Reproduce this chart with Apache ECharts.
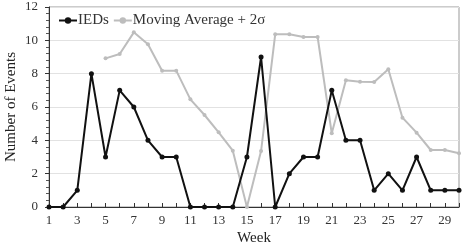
<!DOCTYPE html>
<html>
<head>
<meta charset="utf-8">
<script src="https://cdn.jsdelivr.net/npm/echarts@6/dist/echarts.min.js"></script>
<style>html,body{margin:0;padding:0;background:#fff}#c{width:463px;height:246px}</style>
</head>
<body>
<div id="c"></div>
<script>
const weeks = ["1","2","3","4","5","6","7","8","9","10","11","12","13","14","15","16","17","18","19","20","21","22","23","24","25","26","27","28","29","30"];
const ieds = [0,0,1,8,3,7,6,4,3,3,0,0,0,0,3,9,0,2,3,3,7,4,4,1,2,1,3,1,1,1];
const movingAvg2s = [null,null,null,null,8.92,9.18,10.48,9.76,8.18,8.18,6.46,5.52,4.48,3.38,0,3.36,10.36,10.36,10.2,10.2,4.42,7.6,7.52,7.5,8.26,5.36,4.46,3.42,3.42,3.22];
const yTicks = {min:0, max:12, interval:2};

const font = '"Liberation Serif", "DejaVu Serif", serif';
const chart = echarts.init(document.getElementById('c'), null, {renderer:'canvas'});
chart.setOption({
  animation:false,
  backgroundColor:'#fff',
  grid:{left:49, right:4, top:7, bottom:39, show:true, borderColor:'#999', borderWidth:1, containLabel:false, outerBoundsMode:'none'},
  legend:{
    left:53, top:8, itemWidth:18, itemHeight:8, itemGap:4,
    textStyle:{fontFamily:font, fontSize:15, color:'#333', padding:[0,0,0,-4]},
    data:['IEDs','Moving Average + 2σ']
  },
  xAxis:{
    type:'category', data:weeks, boundaryGap:false,
    name:'Week', nameLocation:'middle', nameGap:24, nameMoveOverlap:false,
    nameTextStyle:{fontFamily:font, fontSize:15, color:'#222'},
    axisLine:{lineStyle:{color:'#333', width:1}},
    axisTick:{show:true, interval:0, inside:true, length:4, lineStyle:{color:'#333'}},
    axisLabel:{interval:1, fontFamily:font, fontSize:13, color:'#333', margin:7},
    splitLine:{show:false}
  },
  yAxis:{
    type:'value', min:yTicks.min, max:yTicks.max, interval:yTicks.interval,
    name:'Number of Events', nameLocation:'middle', nameGap:30, nameMoveOverlap:false,
    nameTextStyle:{fontFamily:font, fontSize:15, color:'#222'},
    axisLine:{show:true, lineStyle:{color:'#333', width:1}},
    axisTick:{show:true, inside:false, length:4, lineStyle:{color:'#333'}},
    minorTick:{show:true, splitNumber:5, length:3, lineStyle:{color:'#555'}},
    axisLabel:{fontFamily:font, fontSize:13, color:'#333', margin:11},
    splitLine:{show:true, lineStyle:{color:'#e2e2e2', width:1}}
  },
  series:[
    {name:'Moving Average + 2σ', type:'line', data:movingAvg2s, connectNulls:false,
     symbol:'circle', symbolSize:4, showAllSymbol:true,
     lineStyle:{color:'#bdbdbd', width:2}, itemStyle:{color:'#bdbdbd'}, z:2},
    {name:'IEDs', type:'line', data:ieds,
     symbol:'circle', symbolSize:5, showAllSymbol:true,
     lineStyle:{color:'#111', width:2}, itemStyle:{color:'#111'}, z:3}
  ]
});
</script>
</body>
</html>
